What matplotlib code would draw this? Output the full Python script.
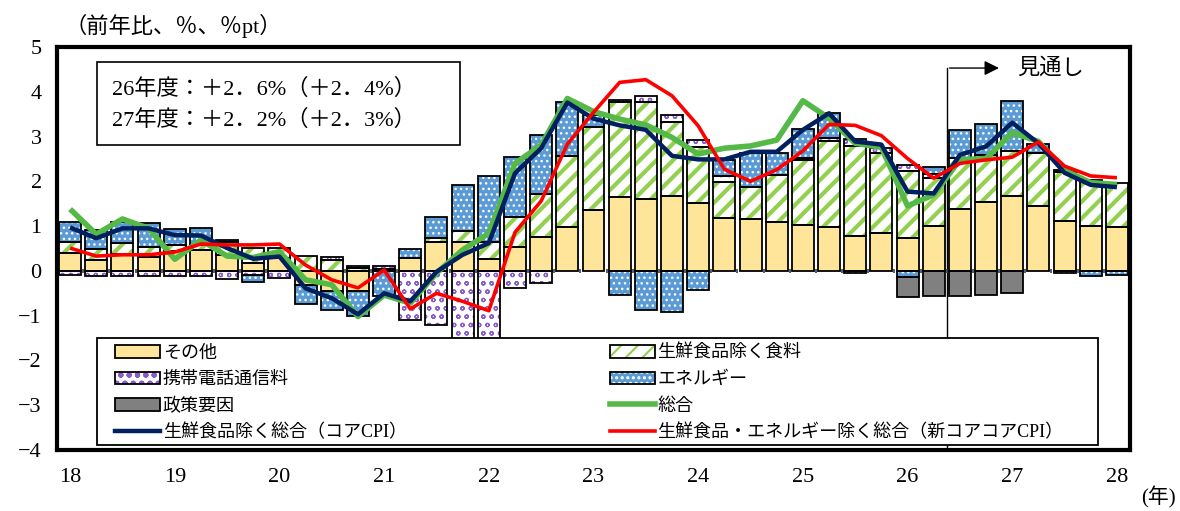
import matplotlib
matplotlib.use('Agg')
import matplotlib.pyplot as plt
from matplotlib.patches import Patch, Rectangle
from matplotlib.lines import Line2D
import numpy as np

plt.rcParams['font.family'] = ['Liberation Serif', 'Noto Sans CJK JP', 'DejaVu Sans']
plt.rcParams['hatch.linewidth'] = 1.5

# quarterly, 2018Q1 .. 2028Q1 (41 quarters)
year_labels = ['18', '19', '20', '21', '22', '23', '24', '25', '26', '27', '28']

other = [0.39, 0.24, 0.37, 0.31, 0.45, 0.47, 0.36, 0.17, 0.28, -0.31,
         -0.46, -0.45, 0.00, 0.28, 0.65, 0.64, 0.26, 0.54, 0.75, 0.99,
         1.35, 1.64, 1.61, 1.67, 1.51, 1.18, 1.15, 1.10, 1.03, 0.97,
         0.78, 0.84, 0.74, 1.00, 1.38, 1.53, 1.67, 1.44, 1.12, 1.00, 0.99]
food = [0.25, 0.25, 0.25, 0.22, 0.13, 0.11, 0.28, 0.33, 0.24, 0.33,
        0.25, 0.06, 0.05, 0.00, 0.08, 0.24, 0.39, 0.67, 0.97, 1.58,
        1.87, 2.14, 2.17, 1.66, 1.26, 0.81, 0.73, 1.04, 1.44, 1.92,
        2.00, 1.80, 1.48, 1.07, 1.13, 1.06, 1.01, 1.19, 1.08, 1.03, 0.97]
mobile = [-0.10, -0.12, -0.12, -0.12, -0.12, -0.12, -0.18, -0.09, -0.15, 0.00,
          0.06, 0.05, 0.05, -1.09, -1.21, -1.55, -1.52, -0.39, -0.26, 0.00,
          0.00, 0.04, 0.13, 0.15, 0.15, 0.12, 0.00, 0.00, 0.05, 0.07,
          0.16, 0.11, 0.15, 0.09, 0.00, 0.00, 0.00, 0.00, 0.00, 0.00, 0.00]
energy = [0.46, 0.43, 0.47, 0.54, 0.36, 0.37, 0.05, -0.16, 0.00, -0.43,
          -0.41, -0.55, -0.57, 0.20, 0.48, 1.04, 1.46, 1.34, 1.32, 1.21,
          0.26, -0.54, -0.87, -0.91, -0.42, 0.37, 0.76, 0.50, 0.64, 0.56,
          -0.04, 0.00, -0.14, 0.15, 0.64, 0.68, 1.11, 0.20, -0.05, -0.11, -0.09]
policy = [0.0] * 32 + [-0.45, -0.56, -0.57, -0.53, -0.50, 0.00, 0.05, 0.00, 0.00]

total = [1.38, 0.82, 1.16, 0.95, 0.26, 0.69, 0.33, 0.30, 0.43, -0.20,
         -0.31, -1.02, -0.54, -0.72, -0.05, 0.47, 0.84, 2.40, 2.81, 3.85,
         3.56, 3.39, 3.26, 2.98, 2.61, 2.74, 2.79, 2.92, 3.80, 3.41,
         2.85, 2.76, 1.45, 1.70, 2.48, 2.51, 3.09, 2.89, 2.25, 1.97, 1.93]
core = [0.97, 0.73, 0.95, 0.95, 0.80, 0.79, 0.51, 0.27, 0.32, -0.39,
        -0.61, -0.97, -0.50, -0.68, -0.02, 0.36, 0.62, 2.18, 2.74, 3.76,
        3.40, 3.25, 3.15, 2.57, 2.49, 2.49, 2.66, 2.66, 3.15, 3.52,
        2.89, 2.82, 1.77, 1.73, 2.59, 2.78, 3.31, 2.85, 2.19, 1.92, 1.87]
core_core = [0.51, 0.33, 0.36, 0.36, 0.42, 0.60, 0.58, 0.58, 0.60, 0.13,
             -0.20, -0.38, 0.02, -0.85, -0.50, -0.68, -0.89, 0.86, 1.56, 2.83,
             3.54, 4.21, 4.27, 3.91, 3.24, 2.27, 2.00, 2.26, 2.68, 3.27,
             3.25, 3.02, 2.51, 2.07, 2.40, 2.48, 2.54, 2.88, 2.34, 2.12, 2.08]

x = np.arange(len(other))

fig = plt.figure(figsize=(11.8, 5.11), dpi=100)
ax = fig.add_axes([57 / 1180, 1 - 450 / 511, 1073 / 1180, 403 / 511])

# bar styles: facecolor, hatch, hatch colour, hatch linewidth
styles = {
    'other': ('#ffe599', None, '#ffe599', 1.0),
    'food': ('white', '//', '#92d050', 3.0),
    'mobile': ('white', 'oo', '#8a5cc8', 0.9),
    'energy': ('#5b9bd5', '...', 'white', 1.0),
    'policy': ('#808080', None, '#808080', 1.0),
}
series = [('other', other), ('food', food), ('mobile', mobile),
          ('energy', energy), ('policy', policy)]


def set_hlw(artists, lw):
    for a in artists:
        if hasattr(a, 'set_hatch_linewidth'):
            a.set_hatch_linewidth(lw)


width = 0.84
pos_base = np.zeros(len(x))
neg_base = np.zeros(len(x))
for name, vals in series:
    v = np.array(vals)
    base = np.where(v >= 0, pos_base, neg_base)
    m = v != 0
    fc, hatch, hc, hlw = styles[name]
    with plt.rc_context({'hatch.linewidth': hlw}):
        bars = ax.bar(x[m], v[m], width, bottom=base[m], color=fc, edgecolor=hc,
                      hatch=hatch, linewidth=0, zorder=2)
    set_hlw(bars, hlw)
    ax.bar(x[m], v[m], width, bottom=base[m], facecolor='none',
           edgecolor='black', linewidth=1.3, zorder=2.1)
    pos_base = np.where(v > 0, pos_base + v, pos_base)
    neg_base = np.where(v < 0, neg_base + v, neg_base)

# small category ticks on the zero line
ax.vlines(x[:-1] + 0.5, -0.04, 0.04, color='#404040', lw=1.2, zorder=2.2)

ax.plot(x, total, color='#55b947', lw=4, zorder=4, solid_capstyle='butt')
ax.plot(x, core, color='#002060', lw=3.2, zorder=5, solid_capstyle='butt')
ax.plot(x, core_core, color='#ff0000', lw=2.6, zorder=6, solid_capstyle='butt')

ax.set_xlim(-0.5, 40.5)
ax.set_ylim(-4, 5)
ax.set_yticks(range(-4, 6))
ax.set_xticks(np.arange(0, 41, 4))
ax.set_xticklabels(year_labels)
ax.tick_params(length=0, labelsize=16)
ax.tick_params(axis='y', pad=11)
ax.tick_params(axis='x', pad=13)
for s in ax.spines.values():
    s.set_linewidth(3)

# forecast marker
ax.plot([33.5, 33.5], [-4, 4.53], color='black', lw=1, zorder=1.5)
ax.annotate('', xy=(35.6, 4.53), xytext=(33.5, 4.53),
            arrowprops=dict(arrowstyle='-|>', color='black', lw=1, mutation_scale=22))
ax.text(36.2, 4.53, '見通し', fontsize=16, va='center', ha='left')

# fiscal year summary box
ax.add_patch(Rectangle((0.0373, 0.757), 0.338, 0.206, transform=ax.transAxes,
                       facecolor='white', edgecolor='black', lw=1.2, zorder=7))
ax.text(0.051, 0.895, '26年度：＋2．6%（＋2．4%）', transform=ax.transAxes,
        fontsize=16, va='center', zorder=8)
ax.text(0.051, 0.818, '27年度：＋2．2%（＋2．3%）', transform=ax.transAxes,
        fontsize=16, va='center', zorder=8)


def hpatch(name):
    fc, hatch, hc, hlw = styles[name]
    with plt.rc_context({'hatch.linewidth': hlw}):
        p = Patch(facecolor=fc, edgecolor=hc, hatch=hatch, lw=0)
    set_hlw([p], hlw)
    return (p, Patch(facecolor='none', edgecolor='black', lw=1.3))


# legend frame drawn by hand, two one-column legends inside
ax.add_patch(Rectangle((0.0373, 0.012), 0.933, 0.266, transform=ax.transAxes,
                       facecolor='white', edgecolor='black', lw=1.3, zorder=9))
leg_kw = dict(loc='upper left', fontsize=13, frameon=False, handlelength=2.5,
              handleheight=0.7, handletextpad=0.15, labelspacing=0.52,
              borderaxespad=0, borderpad=0)
leg1 = ax.legend([hpatch('other'), hpatch('mobile'), hpatch('policy'),
                  Line2D([], [], color='#002060', lw=3.2)],
                 ['その他', '携帯電話通信料', '政策要因', '生鮮食品除く総合（コアCPI）'],
                 bbox_to_anchor=(0.054, 0.261), **leg_kw)
leg1.set_zorder(10)
ax.add_artist(leg1)
leg2 = ax.legend([hpatch('food'), hpatch('energy'),
                  Line2D([], [], color='#55b947', lw=4),
                  Line2D([], [], color='#ff0000', lw=2.6)],
                 ['生鮮食品除く食料', 'エネルギー', '総合',
                  '生鮮食品・エネルギー除く総合（新コアコアCPI）'],
                 bbox_to_anchor=(0.515, 0.261), **leg_kw)
leg2.set_zorder(10)

fig.text(65 / 1180, 1 - 26 / 511, '（前年比、％、％pt）', fontsize=16, va='center', ha='left')
fig.text(1158 / 1180, 1 - 497 / 511, '(年)', fontsize=15, va='center', ha='center')

fig.savefig('out.png', dpi=100)
